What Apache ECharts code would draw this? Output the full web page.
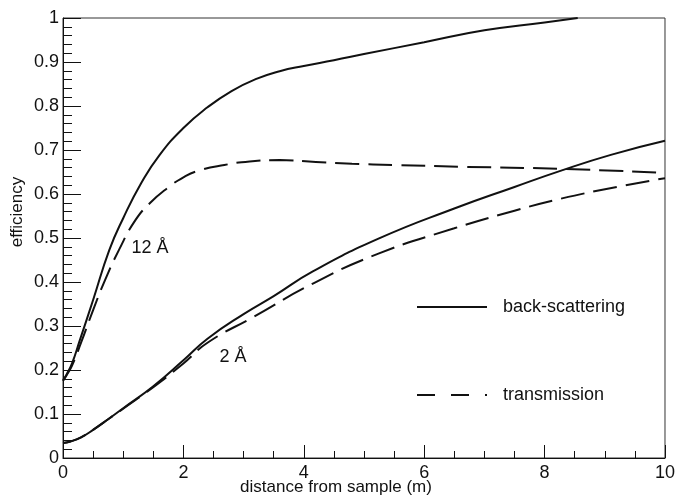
<!DOCTYPE html>
<html>
<head>
<meta charset="utf-8">
<script src="https://cdn.jsdelivr.net/npm/echarts@6/dist/echarts.min.js"></script>
<style>
  html, body { margin: 0; padding: 0; background: #fff; }
  #main { width: 678px; height: 496px; }
</style>
</head>
<body>
<div id="main"></div>
<script>
// back-scattering, 12 A (solid, upper)
var xBack12 = [0, 0.06, 0.15, 0.28, 0.5, 0.77, 1.0, 1.3, 1.6, 2.0, 2.4, 2.8, 3.2, 3.6, 4.0, 4.5, 5.0, 6.0, 7.0, 8.0, 8.55];
var yBack12 = [0.177, 0.19, 0.215, 0.268, 0.359, 0.473, 0.545, 0.625, 0.688, 0.75, 0.797, 0.834, 0.861, 0.879, 0.891, 0.904, 0.918, 0.945, 0.972, 0.99, 1.0];
// transmission, 12 A (dashed, upper)
var xTrans12 = [0, 0.06, 0.15, 0.3, 0.5, 0.7, 0.93, 1.2, 1.45, 1.75, 2.0, 2.25, 2.68, 3.1, 3.6, 4.2, 4.8, 5.5, 6.6, 8.3, 10];
var yTrans12 = [0.175, 0.188, 0.21, 0.262, 0.336, 0.405, 0.473, 0.54, 0.58, 0.615, 0.638, 0.653, 0.666, 0.674, 0.677, 0.673, 0.669, 0.666, 0.662, 0.657, 0.648];
// back-scattering, 2 A (solid, lower)
var xBack2 = [0, 0.11, 0.3, 0.5, 0.75, 1.0, 1.5, 2.0, 2.4, 3.0, 3.5, 4.15, 5.25, 6.5, 7.5, 8.25, 9.1, 10];
var yBack2 = [0.034, 0.037, 0.047, 0.064, 0.088, 0.113, 0.163, 0.222, 0.271, 0.327, 0.368, 0.424, 0.499, 0.567, 0.616, 0.652, 0.689, 0.721];
// transmission, 2 A (dashed, lower)
var xTrans2 = [0, 0.11, 0.3, 0.5, 0.75, 1.0, 1.5, 2.0, 2.4, 3.17, 4.16, 5.25, 6.5, 7.5, 8.26, 9.2, 10];
var yTrans2 = [0.034, 0.037, 0.047, 0.064, 0.088, 0.112, 0.161, 0.215, 0.262, 0.321, 0.397, 0.465, 0.522, 0.562, 0.589, 0.616, 0.636];

var legendNames = ['back-scattering', 'transmission'];
var xTicks = [0, 2, 4, 6, 8, 10];

function pairs(xs, ys) {
	var out = [];
	for (var i = 0; i < xs.length; i++) {
		out.push([xs[i], ys[i]]);
	}
	return out;
}

var ink = '#111';
var font = 'Liberation Sans, Arial, sans-serif';

function lineSeries(name, xs, ys, dashed) {
	return {
		name: name,
		type: 'line',
		data: pairs(xs, ys),
		showSymbol: false,
		symbol: 'none',
		smooth: 0.5,
		clip: true,
		lineStyle: { color: ink, width: 2, type: dashed ? [24, 9] : 'solid' },
		itemStyle: { color: ink },
		emphasis: { disabled: true }
	};
}

var myChart = echarts.init(document.getElementById('main'), null, { renderer: 'canvas' });

var option = {
	animation: false,
	backgroundColor: '#fff',
	grid: {
		left: 63, right: 3, top: 18, bottom: 38,
		show: true, borderColor: '#333', borderWidth: 1
	},
	legend: {
		orient: 'vertical',
		left: 411,
		top: 293,
		itemWidth: 70,
		itemHeight: 20,
		itemGap: 70,
		selectedMode: false,
		itemStyle: { opacity: 0, color: 'rgba(0,0,0,0)', borderWidth: 0 },
		textStyle: { fontSize: 18, color: ink, fontFamily: font, padding: [0, 0, 0, 11] },
		data: [
			{ name: legendNames[0] },
			{ name: legendNames[1], lineStyle: { type: [18, 16] } }
		]
	},
	xAxis: {
		type: 'value',
		min: xTicks[0],
		max: xTicks[xTicks.length - 1],
		interval: 2,
		axisLine: { lineStyle: { color: ink, width: 1 } },
		axisTick: { inside: true, length: 13, lineStyle: { color: ink } },
		minorTick: { show: true, splitNumber: 4, length: 7, lineStyle: { color: ink } },
		splitLine: { show: false },
		axisLabel: { fontSize: 18, color: ink, fontFamily: font, margin: 6 }
	},
	yAxis: {
		type: 'value',
		min: 0,
		max: 1,
		interval: 0.1,
		axisLine: { show: true, lineStyle: { color: ink, width: 1 } },
		axisTick: { show: true, inside: true, length: 18, lineStyle: { color: ink } },
		minorTick: { show: true, splitNumber: 5, length: 9, lineStyle: { color: ink } },
		splitLine: { show: false },
		axisLabel: { fontSize: 18, color: ink, fontFamily: font, margin: 4 }
	},
	graphic: [
		{ type: 'text', x: 17, y: 212, rotation: Math.PI / 2,
		  style: { text: 'efficiency', fontSize: 17, fill: ink, fontFamily: font, textAlign: 'center', textVerticalAlign: 'middle' } },
		{ type: 'text', x: 336, y: 487,
		  style: { text: 'distance from sample (m)', fontSize: 17, fill: ink, fontFamily: font, textAlign: 'center', textVerticalAlign: 'middle' } },
		{ type: 'text', x: 150, y: 248,
		  style: { text: '12 Å', fontSize: 18, fill: ink, fontFamily: font, textAlign: 'center', textVerticalAlign: 'middle' } },
		{ type: 'text', x: 233, y: 357,
		  style: { text: '2 Å', fontSize: 18, fill: ink, fontFamily: font, textAlign: 'center', textVerticalAlign: 'middle' } }
	],
	series: [
		lineSeries(legendNames[0], xBack12, yBack12, false),
		lineSeries(legendNames[1], xTrans12, yTrans12, true),
		lineSeries(legendNames[0], xBack2, yBack2, false),
		lineSeries(legendNames[1], xTrans2, yTrans2, true)
	]
};

myChart.setOption(option);
window.onresize = myChart.resize;
</script>
</body>
</html>
